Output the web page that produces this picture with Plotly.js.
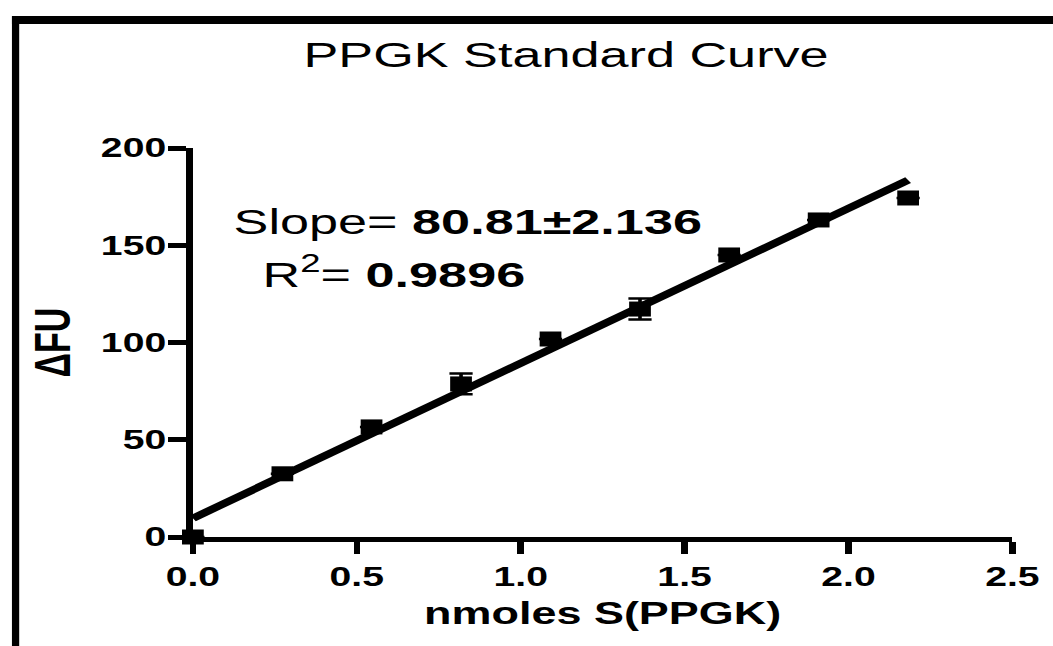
<!DOCTYPE html>
<html>
<head>
<meta charset="utf-8">
<script src="https://cdn.plot.ly/plotly-3.0.1.min.js"></script>
<style>
  html, body { margin: 0; padding: 0; background: #fff; overflow: hidden; }
  #wrap { width: 1053px; height: 646px; overflow: hidden; position: relative; background:#fff; }
  #plot { width: 726px; height: 646px; transform: scaleX(1.4504); transform-origin: 0 0; }
</style>
</head>
<body>
<div id="wrap"><div id="plot"></div></div>
<script>
// ---- data ----
const nmolesPPGK = [0, 0.273, 0.545, 0.818, 1.091, 1.364, 1.636, 1.909, 2.182];
const deltaFU    = [0, 32.5, 56.6, 78.7, 101.8, 117.2, 145.0, 163.0, 174.3];
const deltaFUerr = [0, 0, 0, 5.3, 0, 5.4, 0, 0, 0];
const xTickVals  = [0, 0.5, 1.0, 1.5, 2.0, 2.5];
const xTickText  = ['0.0', '0.5', '1.0', '1.5', '2.0', '2.5'];
const yTickVals  = [0, 50, 100, 150, 200];
const chartTitle = 'PPGK Standard Curve';
const slopeText  = 'Slope= <b>80.81\u00b12.136</b>';
const r2Text     = 'R<sup>2</sup>= <b>0.9896</b>';

// least-squares fit of the points
const n = nmolesPPGK.length;
const mx = nmolesPPGK.reduce((a, b) => a + b, 0) / n;
const my = deltaFU.reduce((a, b) => a + b, 0) / n;
let sxx = 0, sxy = 0;
for (let i = 0; i < n; i++) { sxx += (nmolesPPGK[i] - mx) ** 2; sxy += (nmolesPPGK[i] - mx) * (deltaFU[i] - my); }
const slope = sxy / sxx, intercept = my - slope * mx;
const fitX = [Math.min(...nmolesPPGK), Math.max(...nmolesPPGK)];
const fitY = fitX.map(x => intercept + slope * x);

const FONT = 'Liberation Sans, Arial, Helvetica, sans-serif';

const traces = [
  { x: fitX, y: fitY, mode: 'lines', line: { color: '#000', width: 7 }, cliponaxis: false, showlegend: false, hoverinfo: 'skip' },
  { x: nmolesPPGK, y: deltaFU, mode: 'markers', cliponaxis: false, showlegend: false,
    marker: { symbol: 'square', size: 15, color: '#000' },
    error_y: { type: 'data', array: deltaFUerr, visible: true, color: '#000', thickness: 2.5, width: 8 } }
];

const layout = {
  width: 726, height: 646,
  margin: { l: 133, r: 28, t: 148, b: 109, pad: 0 },
  paper_bgcolor: '#fff', plot_bgcolor: '#fff',
  font: { family: FONT, color: '#000' },
  title: { text: chartTitle, font: { family: FONT, size: 36, color: '#000' },
           xref: 'container', yref: 'container', x: 0.5376, y: 0.9164, xanchor: 'center', yanchor: 'middle' },
  xaxis: {
    range: [0, 2.5], tickvals: xTickVals, ticktext: xTickText,
    showgrid: false, zeroline: false, showline: true, linecolor: '#000', linewidth: 5,
    ticks: 'outside', ticklen: 12, tickwidth: 4.5, tickcolor: '#000',
    tickfont: { family: FONT, size: 27, weight: 'bold', color: '#000' },
    title: { text: 'nmoles S(PPGK)', standoff: 12, font: { family: FONT, size: 31, weight: 'bold', color: '#000' } }
  },
  yaxis: {
    range: [0, 200], tickvals: yTickVals,
    showgrid: false, zeroline: false, showline: true, linecolor: '#000', linewidth: 5,
    ticks: 'outside', ticklen: 12, tickwidth: 5, tickcolor: '#000', ticklabelstandoff: -4,
    tickfont: { family: FONT, size: 27, weight: 'bold', color: '#000' },
    title: { text: '\u0394FU', standoff: 12, font: { family: FONT, size: 34, weight: 'bold', color: '#000' } }
  },
  annotations: [
    { xref: 'x', yref: 'y', x: 0.116, y: 162, xanchor: 'left', yanchor: 'middle', showarrow: false,
      text: slopeText, font: { family: FONT, size: 36, color: '#000' } },
    { xref: 'x', yref: 'y', x: 0.203, y: 136, xanchor: 'left', yanchor: 'middle', showarrow: false,
      text: r2Text, font: { family: FONT, size: 36, color: '#000' } }
  ],
  shapes: [
    { type: 'line', xref: 'paper', yref: 'paper', x0: -0.2164, x1: -0.2164, y0: -0.40, y1: 1.339, line: { color: '#000', width: 5 } },
    { type: 'line', xref: 'paper', yref: 'paper', x0: -0.2208, x1: 1.06, y0: 1.329, y1: 1.329, line: { color: '#000', width: 8 } }
  ]
};

Plotly.newPlot('plot', traces, layout, { staticPlot: true, displayModeBar: false });
</script>
</body>
</html>
